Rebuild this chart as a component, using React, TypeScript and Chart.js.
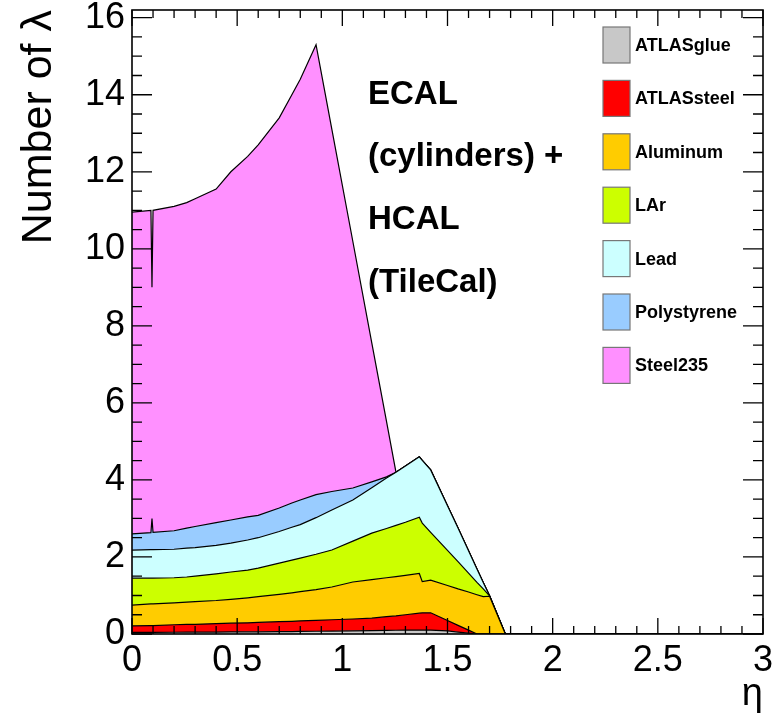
import React, { useEffect, useRef } from "react";
import { Chart, registerables } from "chart.js";

Chart.register(...registerables);

const FONT = '"Liberation Sans", Arial, Helvetica, sans-serif';

// pseudorapidity sampling points
const eta = [0, 0.09, 0.095, 0.1, 0.2, 0.26, 0.3, 0.4, 0.47, 0.55, 0.6, 0.7, 0.76, 0.8, 0.875, 0.95, 1.05, 1.14, 1.21, 1.255, 1.3, 1.366, 1.38, 1.42, 1.5, 1.55, 1.6, 1.64, 1.67, 1.7, 1.775, 3.0];

// interaction lengths per material (stacked)
const atlasGlue = [0.04, 0.04, 0.04, 0.04, 0.045, 0.047, 0.048, 0.05, 0.053, 0.056, 0.057, 0.06, 0.064, 0.067, 0.072, 0.077, 0.083, 0.089, 0.093, 0.097, 0.1, 0.1, 0.1, 0.1, 0.08, 0.05, 0.025, 0, 0, 0, 0, 0];
const atlasSteel = [0.17, 0.18, 0.18, 0.18, 0.195, 0.203, 0.202, 0.22, 0.227, 0.234, 0.243, 0.26, 0.266, 0.273, 0.283, 0.293, 0.307, 0.321, 0.357, 0.373, 0.4, 0.44, 0.45, 0.45, 0.27, 0.175, 0.075, 0, 0, 0, 0, 0];
const aluminum = [0.54, 0.56, 0.56, 0.56, 0.57, 0.58, 0.59, 0.6, 0.62, 0.65, 0.67, 0.71, 0.74, 0.76, 0.795, 0.85, 0.96, 1.0, 1.01, 1.02, 1.02, 1.03, 0.81, 0.85, 0.91, 0.945, 0.99, 1.02, 0.97, 0.98, 0, 0];
const lar = [0.7, 0.67, 0.67, 0.67, 0.65, 0.65, 0.66, 0.69, 0.71, 0.72, 0.74, 0.81, 0.85, 0.87, 0.92, 0.96, 1.06, 1.21, 1.28, 1.33, 1.38, 1.46, 1.52, 1.24, 0.91, 0.71, 0.49, 0.32, 0.2, 0.01, 0, 0];
const lead = [0.73, 0.74, 0.74, 0.74, 0.74, 0.75, 0.74, 0.74, 0.75, 0.78, 0.79, 0.82, 0.85, 0.87, 0.95, 1.04, 1.07, 1.18, 1.31, 1.38, 1.46, 1.57, 1.63, 1.62, 1.16, 0.87, 0.58, 0.35, 0.17, 0, 0, 0];
const polystyrene = [0.42, 0.44, 0.81, 0.45, 0.48, 0.52, 0.55, 0.59, 0.6, 0.6, 0.58, 0.61, 0.63, 0.64, 0.6, 0.48, 0.31, 0.15, 0.03, 0, 0, 0, 0, 0, 0, 0, 0, 0, 0, 0, 0, 0];
const steel235 = [8.35, 8.37, 6.0, 8.36, 8.42, 8.45, 8.51, 8.66, 9.04, 9.36, 9.62, 10.13, 10.6, 10.92, 11.68, 9.41, 6.4, 3.61, 1.44, 0, 0, 0, 0, 0, 0, 0, 0, 0, 0, 0, 0, 0];

const materialNames = ["ATLASglue", "ATLASsteel", "Aluminum", "LAr", "Lead", "Polystyrene", "Steel235"];
const materialValues = [atlasGlue, atlasSteel, aluminum, lar, lead, polystyrene, steel235];
const materialColors = ["#c8c8c8", "#ff0000", "#ffcc00", "#ccff00", "#ccffff", "#99ccff", "#ff90ff"];

const xTickValues = [0, 0.5, 1, 1.5, 2, 2.5, 3];
const yTickValues = [0, 2, 4, 6, 8, 10, 12, 14, 16];

const annotationLines = ["ECAL", "(cylinders) +", "HCAL", "(TileCal)"];
const annotationX = 1.122;
const annotationY = [13.77, 12.14, 10.51, 8.88];

const frameTicksPlugin = {
  id: "frameTicks",
  afterDatasetsDraw(chart: any) {
    const { ctx, chartArea: a, scales } = chart;
    const xs = scales.x;
    const ys = scales.y;
    ctx.save();
    ctx.strokeStyle = "#000";
    ctx.lineWidth = 1.3;
    ctx.beginPath();
    for (let i = 0; i <= 30; i++) {
      const px = xs.getPixelForValue(i / 10);
      const len = i % 5 === 0 ? 16 : 8;
      ctx.moveTo(px, a.bottom);
      ctx.lineTo(px, a.bottom - len);
      ctx.moveTo(px, a.top);
      ctx.lineTo(px, a.top + len);
    }
    for (let i = 0; i <= 32; i++) {
      const py = ys.getPixelForValue(i * 0.5);
      const len = i % 4 === 0 ? 20 : 10;
      ctx.moveTo(a.left, py);
      ctx.lineTo(a.left + len, py);
      ctx.moveTo(a.right, py);
      ctx.lineTo(a.right - len, py);
    }
    ctx.stroke();
    ctx.lineWidth = 1.6;
    ctx.strokeRect(a.left, a.top, a.right - a.left, a.bottom - a.top);
    ctx.restore();
  },
};

const textPlugin = {
  id: "annotText",
  afterDraw(chart: any) {
    const { ctx, scales } = chart;
    ctx.save();
    ctx.fillStyle = "#000";
    ctx.font = `bold 33px ${FONT}`;
    ctx.textBaseline = "alphabetic";
    ctx.textAlign = "left";
    annotationLines.forEach((t, i) => {
      ctx.fillText(t, scales.x.getPixelForValue(annotationX), scales.y.getPixelForValue(annotationY[i]));
    });
    // legend
    ctx.font = `bold 18px ${FONT}`;
    ctx.textBaseline = "middle";
    materialNames.forEach((name, i) => {
      const cy = 45 + i * 53.4;
      ctx.fillStyle = materialColors[i];
      ctx.fillRect(603, cy - 18, 27, 36);
      ctx.strokeStyle = "#777";
      ctx.lineWidth = 1.2;
      ctx.strokeRect(603, cy - 18, 27, 36);
      ctx.fillStyle = "#000";
      ctx.fillText(name, 635, cy + 1);
    });
    ctx.restore();
  },
};

export default function App() {
  const ref = useRef<HTMLCanvasElement | null>(null);
  useEffect(() => {
    document.body.style.margin = "0";
    const canvas = ref.current;
    if (!canvas) return;
    const datasets = materialNames.map((name, i) => ({
      label: name,
      data: eta.map((x, j) => ({ x, y: materialValues[i][j] })),
      backgroundColor: materialColors[i],
      borderColor: "#000",
      borderWidth: 1.2,
      pointRadius: 0,
      tension: 0,
      fill: i === 0 ? "origin" : "-1",
    }));
    const chart = new Chart(canvas, {
      type: "line",
      data: { datasets },
      plugins: [frameTicksPlugin, textPlugin],
      options: {
        animation: false,
        responsive: true,
        maintainAspectRatio: false,
        layout: { padding: { top: 10, right: 18, left: 0, bottom: 0 } },
        plugins: { legend: { display: false }, tooltip: { enabled: false } },
        scales: {
          x: {
            type: "linear",
            min: 0,
            max: 3,
            afterBuildTicks: (s: any) => {
              s.ticks = xTickValues.map((v) => ({ value: v }));
            },
            afterFit: (s: any) => {
              s.height = 83;
              s.paddingLeft = 0;
              s.paddingRight = 0;
            },
            grid: { display: false, drawTicks: false },
            border: { display: false },
            ticks: {
              color: "#000",
              padding: 5,
              maxRotation: 0,
              autoSkip: false,
              callback: (v: any) => String(Number(v)),
              font: { family: FONT, size: 36 },
            },
            title: { display: true, text: "η", align: "end", color: "#000", padding: { top: 0, bottom: 0 }, font: { family: FONT, size: 38 } },
          },
          y: {
            type: "linear",
            stacked: true,
            min: 0,
            max: 16.2,
            afterBuildTicks: (s: any) => {
              s.ticks = yTickValues.map((v) => ({ value: v }));
            },
            afterFit: (s: any) => {
              s.width = 132;
              s.paddingTop = 0;
              s.paddingBottom = 0;
            },
            grid: { display: false, drawTicks: false },
            border: { display: false },
            ticks: {
              color: "#000",
              padding: 7,
              autoSkip: false,
              callback: (v: any) => String(Number(v)),
              font: { family: FONT, size: 36 },
            },
            title: { display: true, text: "Number of λ", align: "end", color: "#000", padding: { top: 13, bottom: 0 }, font: { family: FONT, size: 43 } },
          },
        },
      },
    });
    return () => chart.destroy();
  }, []);
  return (
    <div style={{ width: 781, height: 717, position: "relative", background: "#fff" }}>
      <canvas ref={ref} />
    </div>
  );
}
